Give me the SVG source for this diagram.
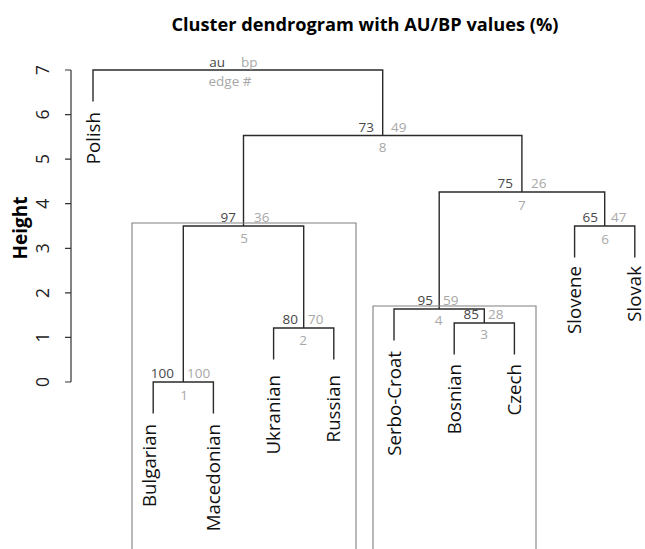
<svg xmlns="http://www.w3.org/2000/svg" width="645" height="549" viewBox="0 0 645 549">
<style>
text{font-family:"Open Sans","Noto Sans","Liberation Sans",sans-serif}
.title{font-size:18.2px;font-weight:bold;fill:#000}
.ylab{font-size:19px;font-weight:bold;fill:#000}
.tick{font-size:17.5px;fill:#222}
.leaf{font-size:18.7px;fill:#111}
.au{font-size:13.5px;fill:#484848;text-anchor:end}
.bp{font-size:13.5px;fill:#a8a8a8}
.edge{font-size:13.5px;fill:#a8a8a8;text-anchor:middle}
.ln{stroke:#2a2a2a;stroke-width:1.4;fill:none}
.ax{stroke:#333;stroke-width:1.2;fill:none}
.box{stroke:#808080;stroke-width:1.1;fill:none}
</style>
<rect width="645" height="549" fill="#fff"/>
<text class="title" x="365" y="31" text-anchor="middle">Cluster dendrogram with AU/BP values (%)</text>
<g id="axis">
<path class="ax" d="M71 70V382M65 70H71M65 114.6H71M65 159.1H71M65 203.7H71M65 248.3H71M65 292.9H71M65 337.4H71M65 382H71"/>
<text class="tick" transform="translate(48.5 70) rotate(-90)" text-anchor="middle">7</text>
<text class="tick" transform="translate(48.5 114.6) rotate(-90)" text-anchor="middle">6</text>
<text class="tick" transform="translate(48.5 159.1) rotate(-90)" text-anchor="middle">5</text>
<text class="tick" transform="translate(48.5 203.7) rotate(-90)" text-anchor="middle">4</text>
<text class="tick" transform="translate(48.5 248.3) rotate(-90)" text-anchor="middle">3</text>
<text class="tick" transform="translate(48.5 292.9) rotate(-90)" text-anchor="middle">2</text>
<text class="tick" transform="translate(48.5 337.4) rotate(-90)" text-anchor="middle">1</text>
<text class="tick" transform="translate(48.5 382) rotate(-90)" text-anchor="middle">0</text>
<text class="ylab" transform="translate(27 228) rotate(-90)" text-anchor="middle">Height</text>
</g>
<g id="connectors">
<path class="ln" d="M93 101.5V70H382.7V135.5"/>
<path class="ln" d="M243.5 226V135.5H521.9V192"/>
<path class="ln" d="M183.3 382V226H303.7V328"/>
<path class="ln" d="M153.2 413.5V382H213.4V413.5"/>
<path class="ln" d="M273.6 359.5V328H333.8V359.5"/>
<path class="ln" d="M439.2 309V192H604.7V226"/>
<path class="ln" d="M394 340.5V309H484.3V323"/>
<path class="ln" d="M454.2 354.5V323H514.4V354.5"/>
<path class="ln" d="M574.6 257.5V226H634.8V257.5"/>
</g>
<g id="clusters">
<path class="box" d="M132 560V223H356V560"/>
<path class="box" d="M373 560V306H536V560"/>
</g>
<g id="legend">
<text class="au" x="225" y="67">au</text>
<text class="bp" x="241" y="67">bp</text>
<text class="edge" x="230" y="86">edge #</text>
</g>
<g id="node8"><text class="au" x="374" y="132">73</text><text class="bp" x="391" y="132">49</text><text class="edge" x="382.7" y="152">8</text></g>
<g id="node7"><text class="au" x="513" y="188">75</text><text class="bp" x="531" y="188">26</text><text class="edge" x="521.9" y="210">7</text></g>
<g id="node5"><text class="au" x="236" y="222">97</text><text class="bp" x="254" y="222">36</text><text class="edge" x="244" y="243">5</text></g>
<g id="node6"><text class="au" x="598" y="222">65</text><text class="bp" x="611" y="222">47</text><text class="edge" x="605" y="244">6</text></g>
<g id="node4"><text class="au" x="433" y="305">95</text><text class="bp" x="443" y="305">59</text><text class="edge" x="438.5" y="325">4</text></g>
<g id="node3"><text class="au" x="479" y="319">85</text><text class="bp" x="488" y="319">28</text><text class="edge" x="484" y="339">3</text></g>
<g id="node2"><text class="au" x="298" y="324">80</text><text class="bp" x="308" y="324">70</text><text class="edge" x="303" y="345">2</text></g>
<g id="node1"><text class="au" x="174" y="378">100</text><text class="bp" x="187" y="378">100</text><text class="edge" x="184" y="400">1</text></g>
<g id="Polish"><text class="leaf" transform="translate(99.7 112) rotate(-90)" text-anchor="end">Polish</text></g>
<g id="Bulgarian"><text class="leaf" transform="translate(156.3 424) rotate(-90)" text-anchor="end">Bulgarian</text></g>
<g id="Macedonian"><text class="leaf" transform="translate(219.8 424) rotate(-90)" text-anchor="end">Macedonian</text></g>
<g id="Ukranian"><text class="leaf" transform="translate(280.2 375) rotate(-90)" text-anchor="end">Ukranian</text></g>
<g id="Russian"><text class="leaf" transform="translate(340.3 375) rotate(-90)" text-anchor="end">Russian</text></g>
<g id="Serbo-Croat"><text class="leaf" transform="translate(400.5 351) rotate(-90)" text-anchor="end">Serbo-Croat</text></g>
<g id="Bosnian"><text class="leaf" transform="translate(460.7 364) rotate(-90)" text-anchor="end">Bosnian</text></g>
<g id="Czech"><text class="leaf" transform="translate(520.9 364) rotate(-90)" text-anchor="end">Czech</text></g>
<g id="Slovene"><text class="leaf" transform="translate(581.1 266) rotate(-90)" text-anchor="end">Slovene</text></g>
<g id="Slovak"><text class="leaf" transform="translate(641.3 266) rotate(-90)" text-anchor="end">Slovak</text></g>
</svg>
